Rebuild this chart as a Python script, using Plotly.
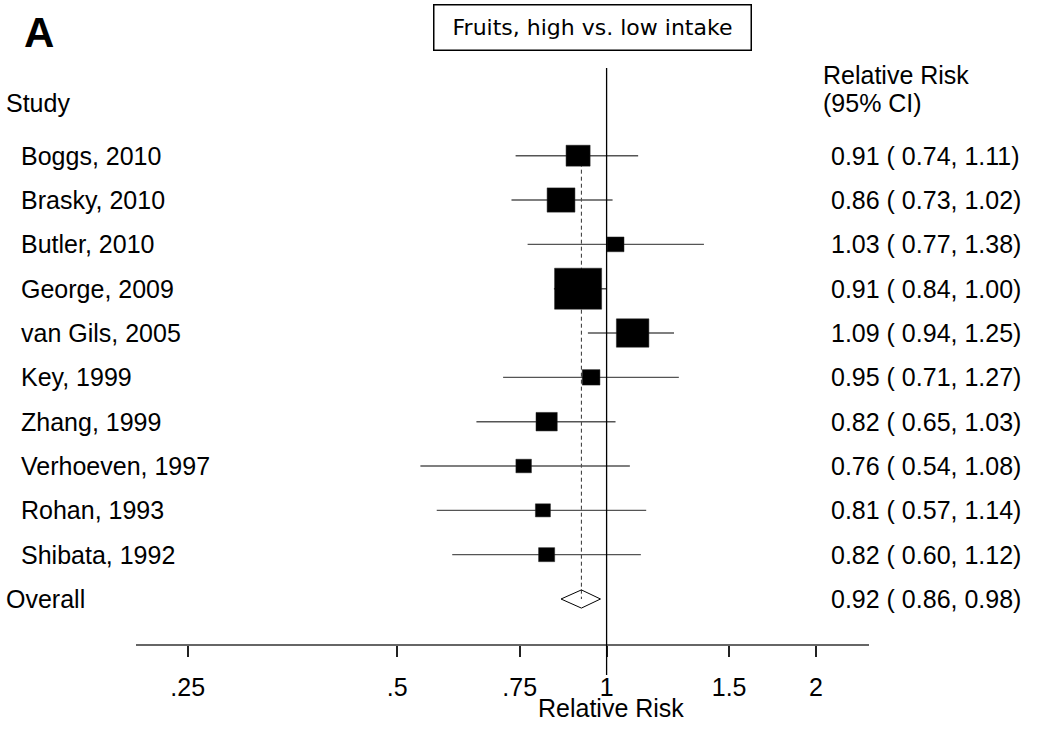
import math
import plotly.graph_objects as go

# ---- data ----
studies = ["Boggs, 2010", "Brasky, 2010", "Butler, 2010", "George, 2009", "van Gils, 2005",
           "Key, 1999", "Zhang, 1999", "Verhoeven, 1997", "Rohan, 1993", "Shibata, 1992"]
rr = [0.91, 0.86, 1.03, 0.91, 1.09, 0.95, 0.82, 0.76, 0.81, 0.82]
lo = [0.74, 0.73, 0.77, 0.84, 0.94, 0.71, 0.65, 0.54, 0.57, 0.60]
hi = [1.11, 1.02, 1.38, 1.00, 1.25, 1.27, 1.03, 1.08, 1.14, 1.12]
weights = [9.05, 12.09, 4.49, 34.6, 16.5, 4.89, 7.06, 3.77, 3.52, 4.04]  # % (estimated)
overall_label = "Overall"
overall = (0.92, 0.86, 0.98)
tick_vals = [0.25, 0.5, 0.75, 1, 1.5, 2]
tick_text = [".25", ".5", ".75", "1", "1.5", "2"]
title_text = "Fruits, high vs. low intake"
panel_label = "A"

# ---- layout geometry ----
W, H = 1041, 731
L, R, T, B = 136, 172, 60, 87
PW, PH = W - L - R, H - T - B
ROW0, ROWSTEP = 155.7, 44.33
XR = [-0.6763, 0.3771]          # log10 range of x axis
PX_PER_DEC = PW / (XR[1] - XR[0])

def px_x(p):
    return (p - L) / PW

def px_y(p):
    return (H - B - p) / PH

def row_of(p):
    return (p - ROW0) / ROWSTEP

def data_to_paper_x(v):
    return (math.log10(v) - XR[0]) / (XR[1] - XR[0])

FONT = "Liberation Sans, Arial, sans-serif"
FS = 25
n = len(studies)
orow = n
DX = -3  # annotation padding compensation

fig = go.Figure()

# dashed overall line
fig.add_trace(go.Scatter(x=[overall[0], overall[0]], y=[0, orow], mode="lines",
                         line=dict(color="#333333", width=1, dash="4px,3px"),
                         hoverinfo="skip", showlegend=False))

# CI lines
cx, cy = [], []
for i in range(n):
    cx += [lo[i], hi[i], None]
    cy += [i, i, None]
fig.add_trace(go.Scatter(x=cx, y=cy, mode="lines", line=dict(color="#555555", width=1.4),
                         hoverinfo="skip", showlegend=False))

# weight boxes (side proportional to sqrt(weight)), drawn as filled polygons
kw, kh = 8.0, 6.97
for i in range(n):
    s = math.sqrt(weights[i])
    hw = kw * s / 2 / PX_PER_DEC      # half-width in log10 units
    hh = kh * s / 2 / ROWSTEP         # half-height in row units
    c = math.log10(rr[i])
    xs = [10 ** (c - hw), 10 ** (c + hw), 10 ** (c + hw), 10 ** (c - hw), 10 ** (c - hw)]
    ys = [i - hh, i - hh, i + hh, i + hh, i - hh]
    fig.add_trace(go.Scatter(x=xs, y=ys, mode="lines", fill="toself", fillcolor="black",
                             line=dict(color="#222222", width=0.5),
                             hoverinfo="skip", showlegend=False))

# overall diamond
dh = 0.205
fig.add_trace(go.Scatter(x=[overall[1], overall[0], overall[2], overall[0], overall[1]],
                         y=[orow, orow - dh, orow, orow + dh, orow],
                         mode="lines", line=dict(color="black", width=1),
                         hoverinfo="skip", showlegend=False))

shapes = []
# null line at 1 (extends past the axis, as in the original)
x1p = data_to_paper_x(1.0)
shapes.append(dict(type="line", xref="paper", yref="paper", x0=x1p, x1=x1p,
                   y0=px_y(68), y1=px_y(675), line=dict(color="black", width=1.3)))

ann = []
for i in range(n):
    ann.append(dict(text=studies[i], xref="paper", yref="y", x=px_x(22 + DX), y=i,
                    xanchor="left", yanchor="middle", showarrow=False,
                    font=dict(family=FONT, size=FS, color="black")))
    ann.append(dict(text=f"{rr[i]:.2f} ( {lo[i]:.2f}, {hi[i]:.2f})", xref="paper", yref="y",
                    x=px_x(832 + DX), y=i, xanchor="left", yanchor="middle", showarrow=False,
                    font=dict(family=FONT, size=FS, color="black")))
ann.append(dict(text=overall_label, xref="paper", yref="y", x=px_x(7 + DX), y=orow,
                xanchor="left", yanchor="middle", showarrow=False,
                font=dict(family=FONT, size=FS, color="black")))
ann.append(dict(text=f"{overall[0]:.2f} ( {overall[1]:.2f}, {overall[2]:.2f})", xref="paper", yref="y",
                x=px_x(832 + DX), y=orow, xanchor="left", yanchor="middle", showarrow=False,
                font=dict(family=FONT, size=FS, color="black")))
ann.append(dict(text="Study", xref="paper", yref="paper", x=px_x(7 + DX), y=px_y(103),
                xanchor="left", yanchor="middle", showarrow=False,
                font=dict(family=FONT, size=FS, color="black")))
ann.append(dict(text="Relative Risk", xref="paper", yref="paper", x=px_x(824 + DX), y=px_y(75),
                xanchor="left", yanchor="middle", showarrow=False,
                font=dict(family=FONT, size=FS, color="black")))
ann.append(dict(text="(95% CI)", xref="paper", yref="paper", x=px_x(824 + DX), y=px_y(103),
                xanchor="left", yanchor="middle", showarrow=False,
                font=dict(family=FONT, size=FS, color="black")))
ann.append(dict(text="Relative Risk", xref="paper", yref="paper", x=px_x(611), y=px_y(708),
                xanchor="center", yanchor="middle", showarrow=False,
                font=dict(family=FONT, size=FS, color="black")))
ann.append(dict(text=title_text, xref="paper", yref="paper", x=px_x(592.5), y=px_y(27),
                xanchor="center", yanchor="middle", showarrow=False, width=314, height=42,
                bordercolor="black", borderwidth=1.5, borderpad=1, bgcolor="white",
                font=dict(family="DejaVu Sans, Verdana, sans-serif", size=22, color="black")))
ann.append(dict(text="<b>" + panel_label + "</b>", xref="paper", yref="paper", x=px_x(38.5), y=px_y(32.5),
                xanchor="center", yanchor="middle", showarrow=False,
                font=dict(family="Liberation Sans, Arial, sans-serif", size=42, color="black")))

fig.update_layout(
    width=W, height=H, margin=dict(l=L, r=R, t=T, b=B),
    plot_bgcolor="white", paper_bgcolor="white",
    shapes=shapes, annotations=ann, showlegend=False,
    xaxis=dict(type="log", range=XR, tickvals=tick_vals, ticktext=tick_text,
               ticks="outside", ticklen=11, tickwidth=1.5, tickcolor="#222222",
               ticklabelstandoff=9,
               showline=True, linecolor="#666666", linewidth=1.5,
               showgrid=False, zeroline=False,
               tickfont=dict(family=FONT, size=FS, color="black")),
    yaxis=dict(range=[row_of(H - B), row_of(T)], showgrid=False, zeroline=False,
               showticklabels=False, showline=False, ticks=""),
)

fig.write_html("out.html")
